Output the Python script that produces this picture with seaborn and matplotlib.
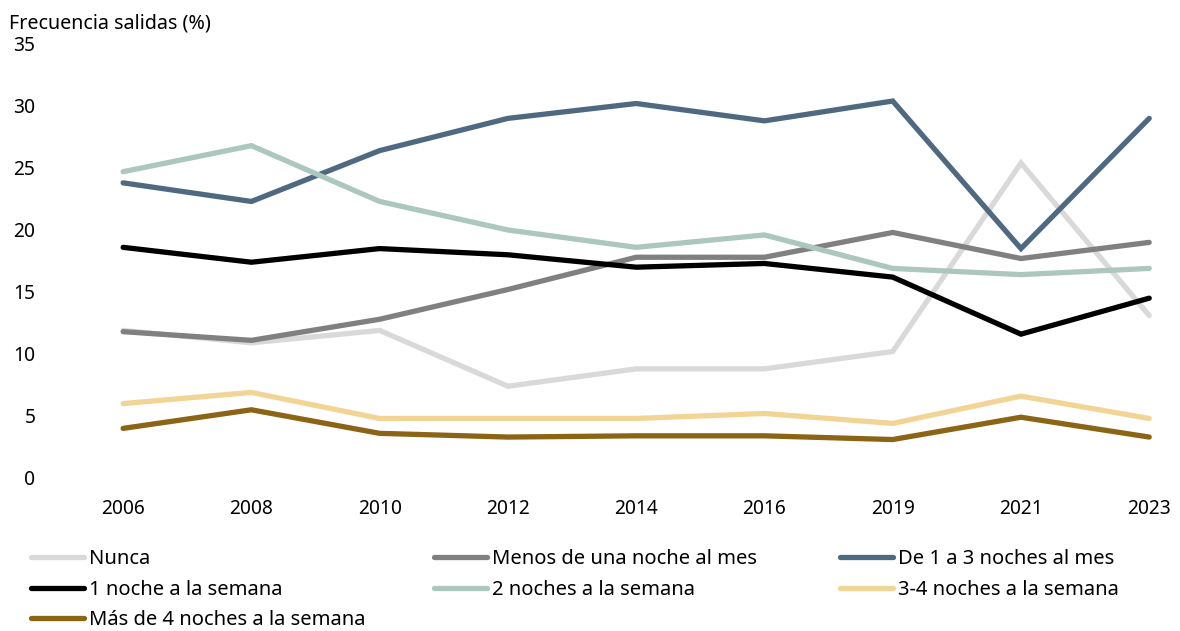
import matplotlib
matplotlib.use("Agg")
import matplotlib.pyplot as plt
import seaborn as sns
import pandas as pd

years = ["2006", "2008", "2010", "2012", "2014", "2016", "2019", "2021", "2023"]

nunca = [11.9, 10.9, 11.9, 7.4, 8.8, 8.8, 10.2, 25.4, 13.1]
menos_una_mes = [11.8, 11.1, 12.8, 15.2, 17.8, 17.8, 19.8, 17.7, 19.0]
de_1_a_3_mes = [23.8, 22.3, 26.4, 29.0, 30.2, 28.8, 30.4, 18.5, 29.0]
una_semana = [18.6, 17.4, 18.5, 18.0, 17.0, 17.3, 16.2, 11.6, 14.5]
dos_semana = [24.7, 26.8, 22.3, 20.0, 18.6, 19.6, 16.9, 16.4, 16.9]
tres_cuatro_semana = [6.0, 6.9, 4.8, 4.8, 4.8, 5.2, 4.4, 6.6, 4.8]
mas_de_4_semana = [4.0, 5.5, 3.6, 3.3, 3.4, 3.4, 3.1, 4.9, 3.3]

series_names = [
    "Nunca",
    "Menos de una noche al mes",
    "De 1 a 3 noches al mes",
    "1 noche a la semana",
    "2 noches a la semana",
    "3-4 noches a la semana",
    "Más de 4 noches a la semana",
]
series_values = [nunca, menos_una_mes, de_1_a_3_mes, una_semana,
                 dos_semana, tres_cuatro_semana, mas_de_4_semana]
colors = ["#d9d9d9", "#808080", "#4f6a80", "#000000",
          "#abc7bf", "#f2d595", "#8b6415"]

df = pd.DataFrame(
    [(s, i, v) for s, vals in zip(series_names, series_values)
     for i, v in enumerate(vals)],
    columns=["serie", "pos", "valor"],
)

sns.set_theme(style="white")
plt.rcParams["font.family"] = ["Noto Sans", "DejaVu Sans"]
plt.rcParams["text.color"] = "#000000"
FS_TICK = 13.8
FS_TITLE = 14.2
FS_LEG = 14.5

fig = plt.figure(figsize=(11.8, 6.31), dpi=100)
ax = fig.add_axes([0.05, 0.2425, 0.95, 0.6878])

sns.lineplot(data=df, x="pos", y="valor", hue="serie", hue_order=series_names,
             palette=dict(zip(series_names, colors)), linewidth=3.8,
             ax=ax, sort=False, estimator=None)
for ln in ax.get_lines():
    ln.set_solid_capstyle("round")
    ln.set_solid_joinstyle("miter")

handles, labels = ax.get_legend_handles_labels()
ax.get_legend().remove()

ax.set_xlim(-0.5, 8.24)
ax.set_ylim(0, 35)
ax.set_xticks(range(len(years)))
ax.set_xticklabels(years)
ax.set_yticks(range(0, 36, 5))
ax.tick_params(axis="both", length=0, labelsize=FS_TICK, colors="#000000")
ax.tick_params(axis="x", pad=15)
ax.tick_params(axis="y", pad=17)
ax.set_xlabel("")
ax.set_ylabel("")
for sp in ax.spines.values():
    sp.set_visible(False)
ax.grid(False)

fig.text(0.008, 0.962, "Frecuencia salidas (%)", fontsize=FS_TITLE,
         ha="left", va="center", color="#000000")

hmap = dict(zip(labels, handles))
columns = [
    (["Nunca", "1 noche a la semana", "Más de 4 noches a la semana"], 0.026),
    (["Menos de una noche al mes", "2 noches a la semana"], 0.368),
    (["De 1 a 3 noches al mes", "3-4 noches a la semana"], 0.712),
]
for labs, x0 in columns:
    leg = fig.legend([hmap[l] for l in labs], labs, loc="upper left",
                     bbox_to_anchor=(x0, 0.13), frameon=False, fontsize=FS_LEG,
                     handlelength=2.63, handletextpad=0.25, labelspacing=0.53,
                     borderaxespad=0, borderpad=0, labelcolor="#000000")
    for h in leg.get_lines():
        h.set_linewidth(3.8)
        h.set_solid_capstyle("round")

fig.savefig("out.png", dpi=100)
